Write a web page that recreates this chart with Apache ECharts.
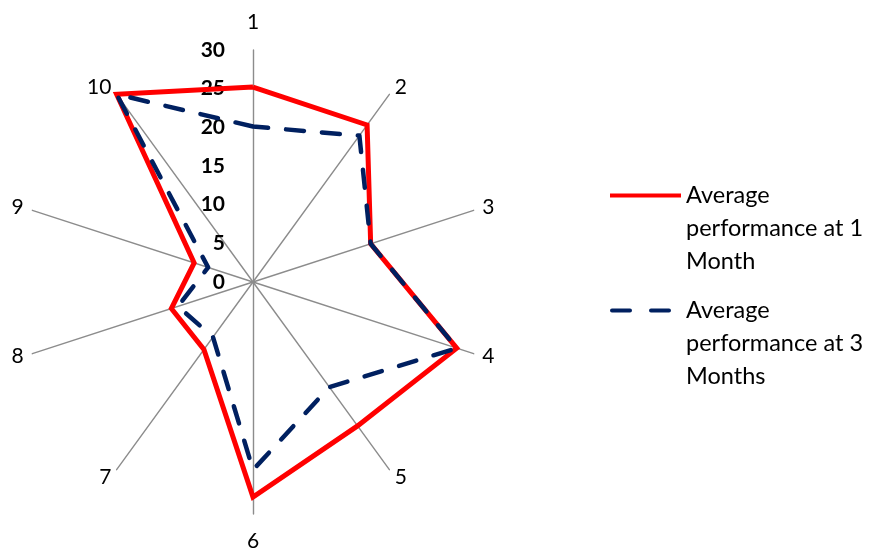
<!DOCTYPE html>
<html>
<head>
<meta charset="utf-8">
<script src="https://cdn.jsdelivr.net/npm/echarts@6/dist/echarts.min.js"></script>
<style>
  html, body { margin: 0; padding: 0; background: #fff; }
  #chart { width: 876px; height: 550px; }
</style>
</head>
<body>
<div id="chart"></div>
<script>
// Spoke names, clockwise from the top
const spokes = ['1', '2', '3', '4', '5', '6', '7', '8', '9', '10'];
// Average scores per spoke
const oneMonth = [25.2, 25.1, 16, 27.7, 23, 27.8, 10.8, 11.1, 8, 30];
const threeMonths = [20.1, 23.4, 16, 27.7, 16.8, 24.3, 8.8, 10.2, 6.1, 30];
const seriesNames = ['Average performance at 1 Month', 'Average performance at 3 Months'];
const legendLines = ['Average\nperformance at 1\nMonth', 'Average\nperformance at 3\nMonths'];
// Value scale of every spoke
const scaleMin = 0;
const scaleMax = 30;
const tickStep = 5;

const FONT = 'Lato, "Open Sans", sans-serif';

// The radar walks counter-clockwise; keep spoke 1 on top and list the rest backwards
const order = [0].concat(spokes.map((_, i) => i).slice(1).reverse());
const pick = arr => order.map(i => arr[i]);

const indicator = pick(spokes).map((name, k) => {
  const item = { name: name, min: scaleMin, max: scaleMax };
  // the straight up / straight down spokes carry their names a bit further out
  if (name === '1' || name === '6') item.nameGap = 17;
  if (k === 0) {
    item.axisLabel = {
      show: true,
      fontFamily: FONT,
      fontWeight: 'bold',
      fontSize: 21,
      color: '#000',
      margin: 28
    };
  }
  return item;
});

const chart = echarts.init(document.getElementById('chart'), null, { renderer: 'canvas' });
chart.setOption({
  animation: false,
  backgroundColor: '#fff',
  radar: {
    center: [253, 282],
    radius: 232,
    startAngle: 90,
    shape: 'polygon',
    splitNumber: (scaleMax - scaleMin) / tickStep,
    indicator: indicator,
    axisName: { color: '#000', fontFamily: FONT, fontSize: 21 },
    nameGap: 9,
    axisLine: { lineStyle: { color: '#8c8c8c', width: 1.4 } },
    axisTick: { show: false },
    axisLabel: { show: false },
    splitLine: { show: false },
    splitArea: { show: false }
  },
  legend: {
    orient: 'vertical',
    left: 605,
    top: 108,
    itemWidth: 71,
    itemHeight: 4,
    itemGap: -50,
    selectedMode: false,
    textStyle: { fontFamily: FONT, fontSize: 23.5, color: '#000', lineHeight: 33 },
    formatter: name => '\n\n' + legendLines[seriesNames.indexOf(name)],
    data: [
      { name: seriesNames[0], icon: 'path://M0,0H71V4H0Z' },
      { name: seriesNames[1], icon: 'path://M2,0H20A2,2,0,0,1,20,4H2A2,2,0,0,1,2,0Z M41,0H59A2,2,0,0,1,59,4H41A2,2,0,0,1,41,0Z M71,4' }
    ]
  },
  series: [{
    type: 'radar',
    symbol: 'none',
    silent: true,
    data: [
      {
        name: seriesNames[0],
        value: pick(oneMonth),
        itemStyle: { color: '#ff0000' },
        lineStyle: { color: '#ff0000', width: 5, join: 'miter' }
      },
      {
        name: seriesNames[1],
        value: pick(threeMonths),
        itemStyle: { color: '#002060' },
        lineStyle: { color: '#002060', width: 4.5, type: [18, 18], cap: 'round', join: 'round' }
      }
    ]
  }]
});
</script>
</body>
</html>
